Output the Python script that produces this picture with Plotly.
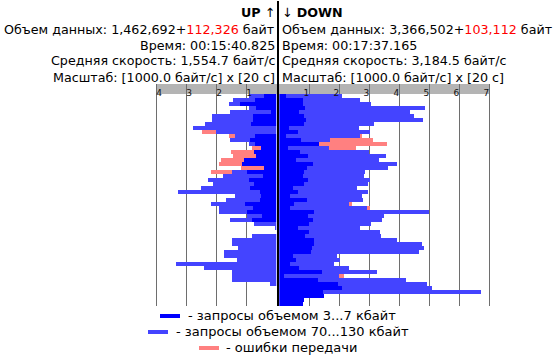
import plotly.graph_objects as go

# ---------------- data (units: 1000 байт/с, one row = 20 с) ----------------
up_small = [0.41, 0.71, 1.21, 0.68, 0.18, 0.77, 0.77, 0.84, 0.00, 0.00,
            0.71, 0.88, 0.71, 0.51, 0.74, 0.68, 1.08, 1.14, 0.41, 0.98,
            0.45, 0.91, 0.74, 0.88, 0.54, 0.51, 0.54, 1.04, 0.78, 1.00,
            0.50, 0.81, 0.00, 0.00, 0.00, 0.00, 0.00, 0.00, 0.00, 0.00,
            0.00, 0.00, 0.00, 0.00, 0.00, 0.00, 0.00, 0.00]
up_large = [0.50, 0.73, 0.37, 0.23, 1.36, 1.37, 1.37, 1.54, 2.78, 2.01,
            0.67, 0.66, 0.20, 0.00, 0.00, 0.00, 0.00, 0.00, 0.00, 0.50,
            1.33, 1.37, 1.37, 1.63, 2.74, 0.87, 1.14, 1.14, 1.13, 0.91,
            0.48, 0.73, 0.74, 0.04, 0.00, 0.81, 1.48, 1.48, 1.28, 1.74,
            1.74, 1.31, 3.34, 2.41, 1.48, 1.48, 1.48, 0.21]
up_err = [0.00, 0.00, 0.00, 0.00, 0.00, 0.00, 0.00, 0.00, 0.00, 0.47,
          0.20, 0.00, 0.00, 0.30, 0.77, 0.76, 0.76, 0.77, 0.77, 0.70,
          0.00, 0.00, 0.00, 0.00, 0.00, 0.00, 0.00, 0.00, 0.00, 0.00,
          0.00, 0.00, 0.00, 0.00, 0.00, 0.00, 0.00, 0.00, 0.00, 0.00,
          0.00, 0.00, 0.00, 0.00, 0.00, 0.00, 0.00, 0.00]

down_small = [0.22, 0.79, 0.81, 0.86, 0.66, 0.82, 0.89, 0.82, 0.32, 0.62,
              0.22, 0.72, 1.32, 0.29, 0.69, 0.96, 0.56, 1.12, 0.92, 0.82,
              0.79, 0.96, 0.82, 0.46, 0.62, 0.36, 0.92, 0.49, 0.36, 1.16,
              0.96, 1.12, 0.99, 0.62, 0.99, 0.86, 1.16, 1.16, 1.09, 1.06,
              0.46, 0.56, 0.36, 0.66, 1.42, 0.16, 1.29, 1.96, 2.09, 1.46,
              1.49, 0.82, 0.79]
down_large = [1.87, 1.90, 2.25, 4.00, 3.70, 3.67, 3.90, 2.34, 2.34, 2.40,
              2.47, 0.97, 0.00, 1.37, 2.30, 2.60, 2.76, 2.80, 2.70, 2.04,
              2.03, 2.06, 2.14, 2.13, 2.34, 2.40, 1.87, 1.83, 2.56, 3.83,
              2.53, 2.30, 2.07, 2.07, 2.37, 2.53, 2.76, 3.60, 3.73, 3.60,
              1.46, 1.46, 1.46, 1.66, 1.84, 1.83, 2.93, 2.96, 3.00, 5.26,
              0.00, 0.00, 0.00]
down_err = [0.00, 0.00, 0.00, 0.00, 0.00, 0.00, 0.00, 0.00, 0.00, 0.00,
            0.07, 1.43, 2.27, 0.90, 0.00, 0.00, 0.00, 0.00, 0.00, 0.00,
            0.00, 0.00, 0.00, 0.00, 0.00, 0.00, 0.00, 0.10, 0.10, 0.00,
            0.00, 0.00, 0.00, 0.00, 0.00, 0.00, 0.00, 0.00, 0.00, 0.00,
            0.00, 0.00, 0.00, 0.00, 0.00, 0.17, 0.00, 0.00, 0.00, 0.00,
            0.00, 0.00, 0.00]

up_ticks = [1, 2, 3, 4]
up_ticktext = ["1", "2", "3", "4"]
down_ticks = [1, 2, 3, 4, 5, 6, 7]
down_ticktext = ["1", "2", "3", "4", "5", "6", "7"]

up_header = [
    "<b>UP</b> ↑",
    "Объем данных: 1,462,692+<span style='color:#ff0000'>112,326</span> байт",
    "Время: 00:15:40.825",
    "Средняя скорость: 1,554.7 байт/с",
    "Масштаб: [1000.0 байт/с] x [20 с]",
]
down_header = [
    "↓ <b>DOWN</b>",
    "Объем данных: 3,366,502+<span style='color:#ff0000'>103,112</span> байт",
    "Время: 00:17:37.165",
    "Средняя скорость: 3,184.5 байт/с",
    "Масштаб: [1000.0 байт/с] x [20 с]",
]
legend_labels = ["- запросы объемом 3...7 кбайт",
                 "- запросы объемом 70...130 кбайт",
                 "- ошибки передачи"]

C_SMALL = "#0000ff"
C_LARGE = "#4444ff"
C_ERR = "#ff8080"
FONT = "DejaVu Sans"

W, H = 558, 358


def px(x):
    return x / W


def py(y):
    return 1 - y / H


fig = go.Figure()
up_rows = list(range(len(up_small)))
down_rows = list(range(len(down_small)))

for vals, col in [(up_small, C_SMALL), (up_large, C_LARGE), (up_err, C_ERR)]:
    fig.add_trace(go.Bar(y=up_rows, x=vals, orientation="h", xaxis="x", yaxis="y",
                         marker=dict(color=col, line=dict(width=0)), hoverinfo="skip"))
for vals, col in [(down_small, C_SMALL), (down_large, C_LARGE), (down_err, C_ERR)]:
    fig.add_trace(go.Bar(y=down_rows, x=vals, orientation="h", xaxis="x2", yaxis="y",
                         marker=dict(color=col, line=dict(width=0)), hoverinfo="skip"))

axis_common = dict(side="top", showgrid=True, gridcolor="#6e6e6e", gridwidth=1,
                   zeroline=False, showline=False, ticks="", anchor="y",
                   tickfont=dict(family=FONT, size=9, color="#111111"), fixedrange=True)

fig.update_layout(
    width=W, height=H,
    margin=dict(l=0, r=0, t=0, b=0),
    paper_bgcolor="white", plot_bgcolor="rgba(0,0,0,0)",
    barmode="stack", bargap=0,
    showlegend=False,
    xaxis=dict(domain=[px(154.8), px(276.3)], range=[4.05, 0],
               tickvals=up_ticks, ticktext=up_ticktext,
               ticklabelposition="inside right", **axis_common),
    xaxis2=dict(domain=[px(279.3), px(490.8)], range=[0, 7.05],
                tickvals=down_ticks, ticktext=down_ticktext,
                ticklabelposition="inside left", **axis_common),
    yaxis=dict(domain=[py(306), py(84)], range=[52.5, -3], showgrid=False,
               zeroline=False, showticklabels=False, ticks="", fixedrange=True),
)

shapes = []
# gray scale header band
shapes.append(dict(type="rect", xref="paper", yref="y", x0=px(156), x1=px(490),
                   y0=-3, y1=-0.5, fillcolor="#b4b4b4", line=dict(width=0), layer="below"))
# central separator
shapes.append(dict(type="line", xref="paper", yref="paper", x0=px(278), x1=px(278),
                   y0=py(1), y1=py(306), line=dict(color="black", width=2), layer="above"))

annotations = []
ys = [13, 29, 45, 61, 77]
for t, y in zip(up_header, ys):
    annotations.append(dict(text=t, xref="paper", yref="paper", x=px(276.5), y=py(y),
                            xanchor="right", yanchor="middle", showarrow=False,
                            font=dict(family=FONT, size=12.7, color="black")))
for t, y in zip(down_header, ys):
    annotations.append(dict(text=t, xref="paper", yref="paper", x=px(279.5), y=py(y),
                            xanchor="left", yanchor="middle", showarrow=False,
                            font=dict(family=FONT, size=12.7, color="black")))

# custom legend
leg = [(160, 180, 316, 186, C_SMALL), (148, 168, 332, 174, C_LARGE), (199, 219, 348, 224, C_ERR)]
for (x0, x1, y, tx, col), lab in zip(leg, legend_labels):
    shapes.append(dict(type="line", xref="paper", yref="paper", x0=px(x0), x1=px(x1),
                       y0=py(y), y1=py(y), line=dict(color=col, width=4)))
    annotations.append(dict(text=lab, xref="paper", yref="paper", x=px(tx), y=py(y - 0.5),
                            xanchor="left", yanchor="middle", showarrow=False,
                            font=dict(family=FONT, size=13, color="black")))

fig.update_layout(shapes=shapes, annotations=annotations)
fig.write_html("out.html", config={"displayModeBar": False},
               post_script="document.body.style.margin='0';document.body.style.padding='0';")
